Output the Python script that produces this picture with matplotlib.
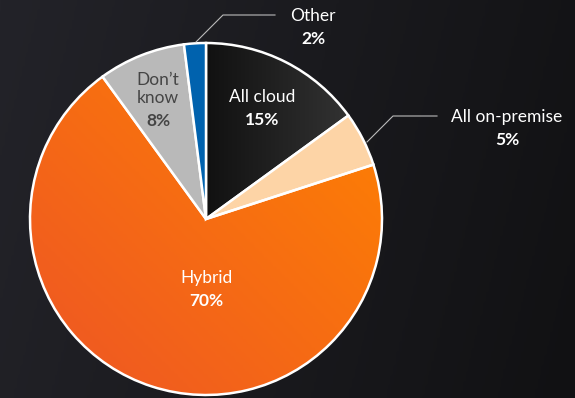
import matplotlib
matplotlib.use("Agg")
import matplotlib.pyplot as plt
import numpy as np
from matplotlib.colors import LinearSegmentedColormap

plt.rcParams['font.family'] = ['Lato', 'DejaVu Sans']

# cloud strategy shares, clockwise from 12 o'clock
labels = ['All cloud', 'All on-premise', 'Hybrid', 'Don\u2019t\nknow', 'Other']
shares = [15, 5, 70, 8, 2]
colors = ['none', '#FDD4A6', 'none', '#B9B9B9', '#0062AE']

W, H = 575, 398
cx, cy, r = 206, 179, 176

fig = plt.figure(figsize=(W / 100, H / 100), dpi=100)
ax = fig.add_axes([0, 0, 1, 1])

# dark backdrop, lighter on the left
gx = np.linspace(0, 1, 200)
gy = np.linspace(0, 1, 120)
GX, GY = np.meshgrid(gx, gy)
bg_cmap = LinearSegmentedColormap.from_list('bg', ['#232329', '#111113'])
ax.imshow(0.85 * GX + 0.15 * (1 - GY), cmap=bg_cmap, extent=(0, W, 0, H),
          origin='lower', aspect='auto', zorder=0)

wedges, _ = ax.pie(shares, colors=colors, startangle=90, counterclock=False,
                   center=(cx, cy), radius=r, frame=True,
                   wedgeprops=dict(edgecolor='white', linewidth=1.8))
for w in wedges:
    w.set_zorder(3)
ax.set_xlim(0, W)
ax.set_ylim(0, H)
ax.set_aspect('equal')
ax.axis('off')

# gradient fills for the cloud and hybrid slices
cloud_cmap = LinearSegmentedColormap.from_list('cloud', ['#111111', '#3a3a3a'])
im = ax.imshow(GX, cmap=cloud_cmap, extent=(cx, cx + r, cy, cy + r),
               origin='lower', aspect='auto', zorder=2)
im.set_clip_path(wedges[0])

hyb_cmap = LinearSegmentedColormap.from_list('hyb', ['#EE5525', '#FF8400'])
im = ax.imshow(0.5 * GX + 0.5 * GY, cmap=hyb_cmap,
               extent=(cx - r, cx + r, cy - r, cy + r),
               origin='lower', aspect='auto', zorder=2)
im.set_clip_path(wedges[2])

fs = 12.5

def put(x, y, name, pct, color, gap=23):
    ax.text(x, H - y, name, ha='center', va='center', color=color,
            fontsize=fs, zorder=5, linespacing=1.2)
    ax.text(x, H - y - gap, f'{pct}%', ha='center', va='center', color=color,
            fontsize=fs, fontweight='bold', zorder=5)

put(262, 97, labels[0], shares[0], 'white')
put(206, 278, labels[2], shares[2], 'white')
put(158, 89, labels[3], shares[3], '#454545', gap=32)

# outside labels with leader lines
put(313, 16, labels[4], shares[4], 'white')
put(507, 117, labels[1], shares[1], 'white')
ax.plot([196, 223, 275], [H - 42, H - 15, H - 15], color='#BBBBBB', lw=0.8, zorder=4)
ax.plot([367, 393, 437], [H - 142, H - 116, H - 116], color='#BBBBBB', lw=0.8, zorder=4)

fig.savefig('out.png', dpi=100, facecolor='#19191c')
